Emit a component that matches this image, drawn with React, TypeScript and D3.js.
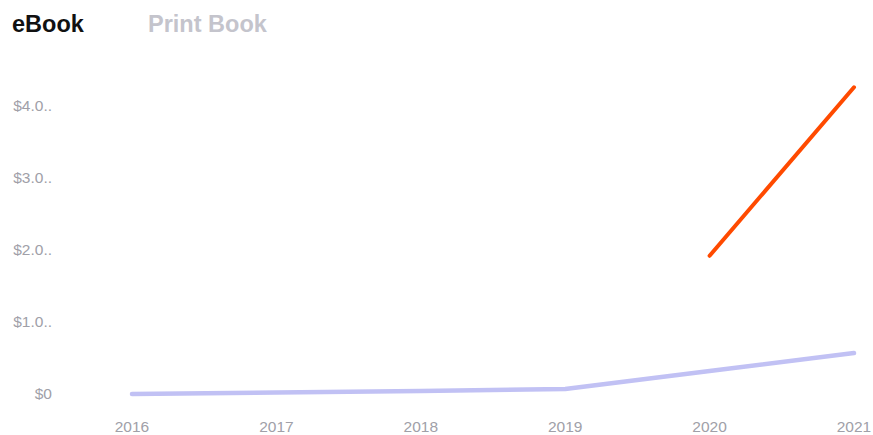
import React from "react";
import * as d3 from "d3";

const years = ["2016", "2017", "2018", "2019", "2020", "2021"];
const ebookValues: (number | null)[] = [null, null, null, null, 1.92, 4.26];
const printValues: number[] = [0.0, 0.02, 0.04, 0.07, 0.32, 0.57];
const yTicks = [0, 1, 2, 3, 4];
const yTickLabels = ["$0", "$1.0..", "$2.0..", "$3.0..", "$4.0.."];
const legendItems = ["eBook", "Print Book"];

export default function App() {
  const W = 873, H = 435;
  const x = d3.scalePoint<string>().domain(years).range([132, 854]);
  const y = d3.scaleLinear().domain([0, 4]).range([394, 106]);
  const line = d3
    .line<number | null>()
    .defined((d) => d !== null)
    .x((_, i) => x(years[i]) as number)
    .y((d) => y(d as number));
  const font = "'Liberation Sans', Arial, sans-serif";
  return (
    <svg width={W} height={H} style={{ position: "absolute", left: 0, top: 0 }}>
      <rect width={W} height={H} fill="#fff" />
      <text x={12} y={32} fontFamily={font} fontSize={23.5} fontWeight="bold" fill="#111">
        {legendItems[0]}
      </text>
      <text x={148} y={32} fontFamily={font} fontSize={23.5} fontWeight="bold" fill="#c4c4cc">
        {legendItems[1]}
      </text>
      {yTicks.map((t, i) => (
        <text
          key={t}
          x={52}
          y={y(t)}
          dy="0.35em"
          textAnchor="end"
          fontFamily={font}
          fontSize={15.5}
          fill="#a0a0a8"
        >
          {yTickLabels[i]}
        </text>
      ))}
      {years.map((yr) => (
        <text
          key={yr}
          x={x(yr)}
          y={432}
          textAnchor="middle"
          fontFamily={font}
          fontSize={15.5}
          fill="#a0a0a8"
        >
          {yr}
        </text>
      ))}
      <path
        d={line(printValues) || ""}
        fill="none"
        stroke="#c1c1f4"
        strokeWidth={4.5}
        strokeLinecap="round"
        strokeLinejoin="round"
      />
      <path
        d={line(ebookValues) || ""}
        fill="none"
        stroke="#ff4a00"
        strokeWidth={4}
        strokeLinecap="round"
        strokeLinejoin="round"
      />
    </svg>
  );
}
